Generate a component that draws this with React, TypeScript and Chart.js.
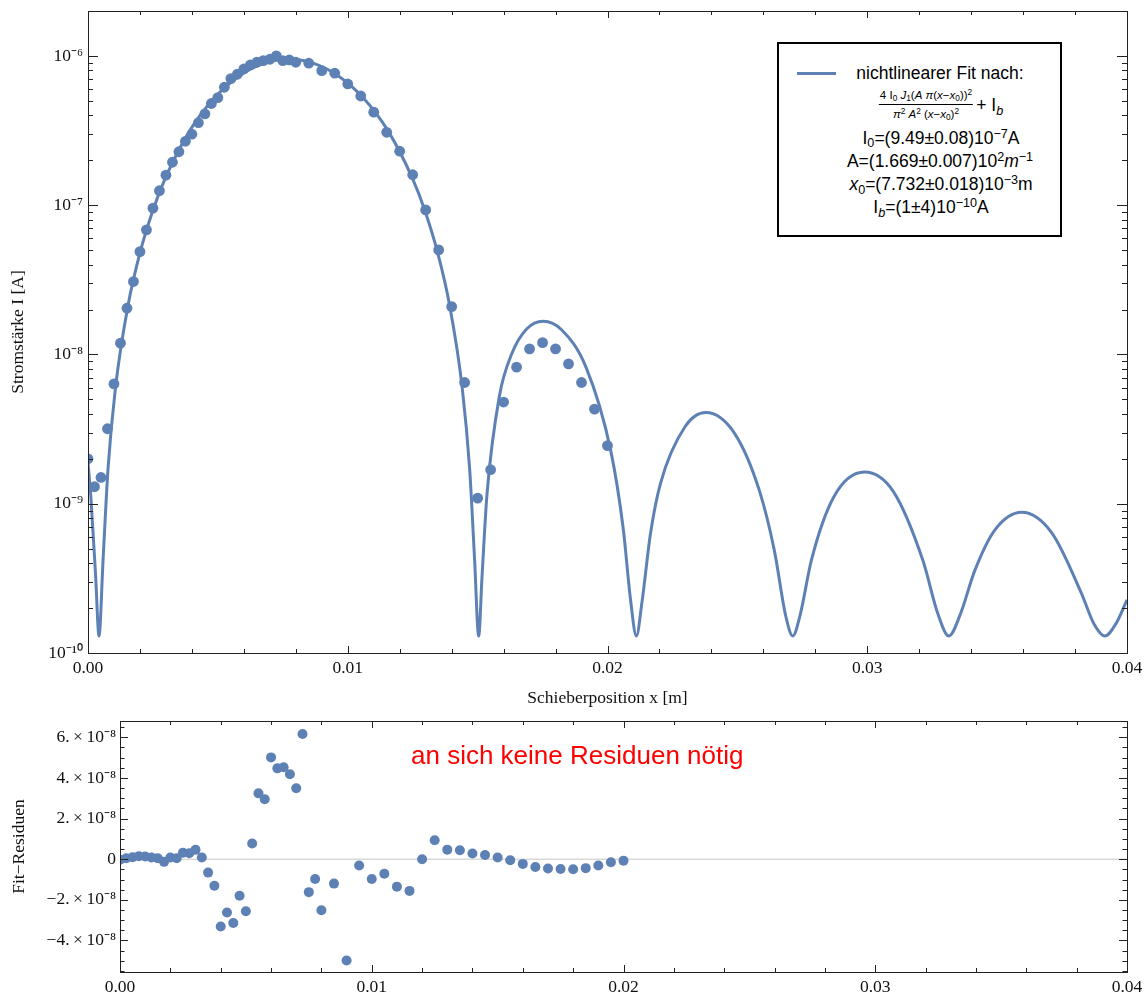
import React, { useEffect, useRef } from "react";
import { Chart, registerables } from "chart.js";

Chart.register(...registerables);

// ---------- data ----------
const BLUE = "#5E81B5";

// measured positions of the slider [m]
const dataX = [
  0, 0.00025, 0.0005, 0.00075, 0.001, 0.00125, 0.0015, 0.00175, 0.002, 0.00225,
  0.0025, 0.00275, 0.003, 0.00325, 0.0035, 0.00375, 0.004, 0.00425, 0.0045, 0.00475,
  0.005, 0.00525, 0.0055, 0.00575, 0.006, 0.00625, 0.0065, 0.00675, 0.007, 0.00725,
  0.0075, 0.00775, 0.008, 0.0085, 0.009, 0.0095, 0.01, 0.0105, 0.011, 0.0115,
  0.012, 0.0125, 0.013, 0.0135, 0.014, 0.0145, 0.015, 0.0155, 0.016, 0.0165,
  0.017, 0.0175, 0.018, 0.0185, 0.019, 0.0195, 0.02,
];

// measured current [A]
const dataI = [
  2.0e-9, 1.3e-9, 1.5e-9, 3.18e-9, 6.35e-9, 1.19e-8, 2.04e-8, 3.08e-8, 4.89e-8, 6.84e-8,
  9.55e-8, 1.25e-7, 1.59e-7, 1.94e-7, 2.28e-7, 2.68e-7, 2.99e-7, 3.57e-7, 4.09e-7, 4.8e-7,
  5.26e-7, 6.17e-7, 7.05e-7, 7.54e-7, 8.18e-7, 8.7e-7, 9.07e-7, 9.3e-7, 9.5e-7, 1.0e-6,
  9.3e-7, 9.4e-7, 9.07e-7, 8.94e-7, 7.97e-7, 7.66e-7, 6.49e-7, 5.39e-7, 4.2e-7, 3.08e-7,
  2.3e-7, 1.6e-7, 9.3e-8, 5.02e-8, 2.09e-8, 6.49e-9, 1.09e-9, 1.69e-9, 4.8e-9, 8.22e-9,
  1.09e-8, 1.2e-8, 1.09e-8, 8.65e-9, 6.49e-9, 4.3e-9, 2.45e-9,
];

// fit residuals [A] at the same positions
const residV = [
  -3e-10, 5e-10, 1.0e-9, 1.5e-9, 1.3e-9, 8e-10, 5e-10, -1.3e-9, 8e-10, 5e-10,
  3.2e-9, 2.9e-9, 4.6e-9, 8e-10, -6.6e-9, -1.31e-8, -3.31e-8, -2.62e-8, -3.14e-8, -1.8e-8,
  -2.56e-8, 7.7e-9, 3.24e-8, 2.95e-8, 5.01e-8, 4.47e-8, 4.52e-8, 4.18e-8, 3.49e-8, 6.16e-8,
  -1.62e-8, -9.7e-9, -2.51e-8, -1.2e-8, -4.98e-8, -3.1e-9, -9.7e-9, -7.2e-9, -1.35e-8, -1.56e-8,
  0, 9.3e-9, 4.7e-9, 4.4e-9, 2.8e-9, 2.1e-9, 8e-10, -5e-10, -2.3e-9, -3.8e-9,
  -4.6e-9, -4.8e-9, -4.9e-9, -4.4e-9, -3.1e-9, -1.5e-9, -7e-10,
];

// fit curve (positions [m])
const fitX = [
  0, 0.000103, 0.000294, 0.000424, 0.00058, 0.000771, 0.001057, 0.001534, 0.00201, 0.002487,
  0.002964, 0.003918, 0.004871, 0.005825, 0.006778, 0.007732, 0.008686, 0.009639, 0.010593, 0.011546,
  0.0125, 0.012977, 0.013454, 0.01393, 0.014407, 0.014693, 0.014884, 0.01504, 0.01517, 0.015361,
  0.015838, 0.016314, 0.016887, 0.017526, 0.018222, 0.019175, 0.020129, 0.020606, 0.020892, 0.021112,
  0.02133, 0.021654, 0.022036, 0.02299, 0.023785, 0.024897, 0.02585, 0.026423, 0.026862, 0.027135,
  0.027414, 0.027853, 0.028711, 0.029893, 0.031, 0.032144, 0.032716, 0.033143, 0.033574, 0.034146,
  0.034909, 0.035951, 0.037103, 0.038247, 0.038724, 0.039145, 0.039582, 0.04,
];
// fit curve values [A]
const fitI = [
  1.86e-9, 1.16e-9, 3.26e-10, 1.3e-10, 4.2e-10, 1.71e-9, 5.98e-9, 2.1e-8, 4.86e-8, 9.12e-8,
  1.5e-7, 3.16e-7, 5.25e-7, 7.35e-7, 8.92e-7, 9.49e-7, 8.92e-7, 7.35e-7, 5.25e-7, 3.16e-7,
  1.5e-7, 9.12e-8, 4.86e-8, 2.1e-8, 5.98e-9, 1.71e-9, 4.2e-10, 1.3e-10, 3.26e-10, 1.16e-9,
  5.26e-9, 1.01e-8, 1.48e-8, 1.67e-8, 1.47e-8, 8.2e-9, 2.25e-9, 6.8e-10, 2.23e-10, 1.3e-10,
  2.21e-10, 6.3e-10, 1.36e-9, 3.29e-9, 4.08e-9, 2.95e-9, 1.22e-9, 4.87e-10, 1.77e-10, 1.3e-10,
  1.79e-10, 4.21e-10, 1.11e-9, 1.63e-9, 1.21e-9, 4.16e-10, 1.84e-10, 1.3e-10, 1.8e-10, 3.59e-10,
  6.66e-10, 8.77e-10, 6.39e-10, 2.51e-10, 1.57e-10, 1.3e-10, 1.58e-10, 2.27e-10,
];

// ---------- axes ----------
const xMin = 0;
const xMax = 0.04;
const xTicks = [0, 0.01, 0.02, 0.03, 0.04];
const xTickLabels = ["0.00", "0.01", "0.02", "0.03", "0.04"];
const xMinorTicks = [
  0.002, 0.004, 0.006, 0.008, 0.012, 0.014, 0.016, 0.018,
  0.022, 0.024, 0.026, 0.028, 0.032, 0.034, 0.036, 0.038,
];

const yLogMin = 1e-10;
const yLogMax = 2e-6;
const yLogTicks = [1e-10, 1e-9, 1e-8, 1e-7, 1e-6];
const yLogTickLabels = ["10⁻¹⁰", "10⁻⁹", "10⁻⁸", "10⁻⁷", "10⁻⁶"];
const yLogMinor = [1e-10, 1e-9, 1e-8, 1e-7].flatMap((d) =>
  [2, 3, 4, 5, 6, 7, 8, 9].map((m) => m * d)
);

const resMin = -5.55e-8;
const resMax = 6.8e-8;
const resTicks = [-4e-8, -2e-8, 0, 2e-8, 4e-8, 6e-8];
const resTickLabels = [
  "−4.\u2009×\u200910⁻⁸",
  "−2.\u2009×\u200910⁻⁸",
  "0",
  "2.\u2009×\u200910⁻⁸",
  "4.\u2009×\u200910⁻⁸",
  "6.\u2009×\u200910⁻⁸",
];
const resMinor = [
  -5.5e-8, -5e-8, -4.5e-8, -3.5e-8, -3e-8, -2.5e-8, -1.5e-8, -1e-8, -0.5e-8,
  0.5e-8, 1e-8, 1.5e-8, 2.5e-8, 3e-8, 3.5e-8, 4.5e-8, 5e-8, 5.5e-8, 6.5e-8,
];

const SERIF = '"Liberation Serif", "Times New Roman", Times, serif';
const SANS = '"Liberation Sans", Arial, Helvetica, sans-serif';
const TXT = "#111";
const FS = 17.5;

// ---------- plugin: Mathematica-like frame with inward ticks ----------
const framePlugin = {
  id: "mmaFrame",
  beforeDatasetsDraw(chart: any, _a: any, opts: any) {
    if (!opts.zeroLine) return;
    const { ctx, chartArea, scales } = chart;
    const py = scales.y.getPixelForValue(0);
    ctx.save();
    ctx.strokeStyle = "#d9d9d9";
    ctx.lineWidth = 1.5;
    ctx.beginPath();
    ctx.moveTo(chartArea.left, py);
    ctx.lineTo(chartArea.right, py);
    ctx.stroke();
    ctx.restore();
  },
  afterDraw(chart: any, _a: any, opts: any) {
    const { ctx, chartArea, scales } = chart;
    const { left, right, top, bottom } = chartArea;
    const xs = scales.x;
    const ys = scales.y;
    ctx.save();
    ctx.strokeStyle = "#222";
    ctx.lineWidth = 1;
    ctx.beginPath();
    const seg = (x1: number, y1: number, x2: number, y2: number) => {
      ctx.moveTo(x1, y1);
      ctx.lineTo(x2, y2);
    };
    const xt: [number[], number][] = [
      [opts.xMajor, opts.xMajorLen],
      [opts.xMinor, opts.xMinorLen],
    ];
    for (const [vals, len] of xt) {
      for (const v of vals) {
        const px = Math.round(xs.getPixelForValue(v)) + 0.5;
        seg(px, bottom, px, bottom - len);
        seg(px, top, px, top + len);
      }
    }
    const yt: [number[], number][] = [
      [opts.yMajor, opts.yMajorLen],
      [opts.yMinor, opts.yMinorLen],
    ];
    for (const [vals, len] of yt) {
      for (const v of vals) {
        const py = Math.round(ys.getPixelForValue(v)) + 0.5;
        seg(left, py, left + len, py);
        seg(right, py, right - len, py);
      }
    }
    ctx.stroke();
    ctx.strokeRect(
      Math.round(left) + 0.5,
      Math.round(top) + 0.5,
      Math.round(right - left),
      Math.round(bottom - top)
    );
    ctx.restore();
  },
};

function xScale(height: number, padding: number, title?: string) {
  return {
    type: "linear",
    min: xMin,
    max: xMax,
    bounds: "data",
    afterBuildTicks: (s: any) => {
      s.ticks = xTicks.map((v) => ({ value: v }));
    },
    afterFit: (s: any) => {
      s.height = height;
      s.paddingLeft = 0;
      s.paddingRight = 0;
      s.paddingTop = 0;
      s.paddingBottom = 0;
    },
    grid: { display: false, drawTicks: false },
    border: { display: false },
    ticks: {
      autoSkip: false,
      maxRotation: 0,
      padding,
      color: TXT,
      font: { family: SERIF, size: FS },
      callback: (_v: any, i: number) => xTickLabels[i],
    },
    title: title
      ? {
          display: true,
          text: title,
          color: TXT,
          font: { family: SERIF, size: FS },
          padding: { top: 0, bottom: 6.5 },
        }
      : { display: false },
  };
}

function yFit(width: number) {
  return (s: any) => {
    s.width = width;
    s.paddingLeft = 0;
    s.paddingRight = 0;
    s.paddingTop = 0;
    s.paddingBottom = 0;
  };
}

export default function App() {
  const topRef = useRef<HTMLCanvasElement>(null);
  const botRef = useRef<HTMLCanvasElement>(null);

  useEffect(() => {
    const c1 = new Chart(topRef.current as HTMLCanvasElement, {
      type: "scatter",
      data: {
        datasets: [
          {
            label: "Messwerte",
            data: dataX.map((x, i) => ({ x, y: dataI[i] })),
            backgroundColor: BLUE,
            borderWidth: 0,
            pointRadius: 5.4,
            pointHoverRadius: 5.4,
            order: 0,
          },
          {
            label: "nichtlinearer Fit",
            data: fitX.map((x, i) => ({ x, y: fitI[i] })),
            showLine: true,
            borderColor: BLUE,
            borderWidth: 3,
            pointRadius: 0,
            cubicInterpolationMode: "monotone",
            order: 1,
          },
        ],
      },
      options: {
        responsive: false,
        animation: false,
        events: [],
        layout: { padding: { left: 0, right: 21, top: 11, bottom: 0 } },
        plugins: {
          legend: { display: false },
          tooltip: { enabled: false },
          mmaFrame: {
            xMajor: xTicks,
            xMinor: xMinorTicks,
            xMajorLen: 7,
            xMinorLen: 4,
            yMajor: yLogTicks,
            yMinor: yLogMinor,
            yMajorLen: 10,
            yMinorLen: 5,
          },
        } as any,
        scales: {
          x: xScale(62, 5, "Schieberposition x [m]") as any,
          y: {
            type: "logarithmic",
            min: yLogMin,
            max: yLogMax,
            bounds: "data",
            afterBuildTicks: (s: any) => {
              s.ticks = yLogTicks.map((v) => ({ value: v }));
            },
            afterFit: yFit(88),
            grid: { display: false, drawTicks: false },
            border: { display: false },
            ticks: {
              autoSkip: false,
              padding: 5,
              color: TXT,
              font: { family: SERIF, size: FS },
              callback: (_v: any, i: number) => yLogTickLabels[i],
            },
            title: {
              display: true,
              text: "Stromstärke I [A]",
              color: TXT,
              font: { family: SERIF, size: FS },
              padding: { top: 7.5, bottom: 0 },
            },
          } as any,
        },
      },
      plugins: [framePlugin as any],
    });

    const c2 = new Chart(botRef.current as HTMLCanvasElement, {
      type: "scatter",
      data: {
        datasets: [
          {
            label: "Fit-Residuen",
            data: dataX.map((x, i) => ({ x, y: residV[i] })),
            backgroundColor: BLUE,
            borderWidth: 0,
            pointRadius: 5,
            pointHoverRadius: 5,
          },
        ],
      },
      options: {
        responsive: false,
        animation: false,
        events: [],
        layout: { padding: { left: 0, right: 21, top: 6, bottom: 0 } },
        plugins: {
          legend: { display: false },
          tooltip: { enabled: false },
          mmaFrame: {
            zeroLine: true,
            xMajor: xTicks,
            xMinor: xMinorTicks,
            xMajorLen: 7,
            xMinorLen: 4,
            yMajor: resTicks,
            yMinor: resMinor,
            yMajorLen: 8,
            yMinorLen: 4.5,
          },
        } as any,
        scales: {
          x: xScale(23, 4.5) as any,
          y: {
            type: "linear",
            min: resMin,
            max: resMax,
            bounds: "data",
            afterBuildTicks: (s: any) => {
              s.ticks = resTicks.map((v) => ({ value: v }));
            },
            afterFit: yFit(120),
            grid: { display: false, drawTicks: false },
            border: { display: false },
            ticks: {
              autoSkip: false,
              padding: 4,
              color: TXT,
              font: { family: SERIF, size: FS },
              callback: (_v: any, i: number) => resTickLabels[i],
            },
            title: {
              display: true,
              text: "Fit−Residuen",
              color: TXT,
              font: { family: SERIF, size: FS },
              padding: { top: 8.5, bottom: 0 },
            },
          } as any,
        },
      },
      plugins: [framePlugin as any],
    });

    return () => {
      c1.destroy();
      c2.destroy();
    };
  }, []);

  // legend box geometry (page coordinates)
  const BX = 777;
  const BY = 42;
  const BW = 285;
  const BH = 195;
  const IX = BX + 2; // inner origin (inside 2px border)
  const IY = BY + 2;

  const Sub = ({ children }: any) => (
    <span style={{ fontSize: "0.72em", position: "relative", top: "0.3em" }}>{children}</span>
  );
  const Sup = ({ children }: any) => (
    <span style={{ fontSize: "0.72em", position: "relative", top: "-0.45em" }}>{children}</span>
  );
  const Row = ({ cx, cy, children }: any) => (
    <div
      style={{
        position: "absolute",
        left: cx - IX,
        top: cy - IY - 10,
        lineHeight: "20px",
        fontSize: FS,
        whiteSpace: "nowrap",
        transform: "translateX(-50%)",
      }}
    >
      {children}
    </div>
  );

  return (
    <div style={{ position: "absolute", left: 0, top: 0, width: 1148, height: 995, background: "#fff" }}>
      <canvas
        ref={topRef}
        width={1148}
        height={715}
        style={{ position: "absolute", left: 0, top: 0, display: "block" }}
      />
      <canvas
        ref={botRef}
        width={1148}
        height={280}
        style={{ position: "absolute", left: 0, top: 715, display: "block" }}
      />

      {/* legend */}
      <div
        style={{
          position: "absolute",
          left: BX,
          top: BY,
          width: BW,
          height: BH,
          boxSizing: "border-box",
          border: "2px solid #000",
          background: "#fff",
          fontFamily: SANS,
          color: "#000",
        }}
      >
        <div
          style={{
            position: "absolute",
            left: 797 - IX,
            top: 73 - IY - 1.5,
            width: 39,
            height: 3,
            background: BLUE,
          }}
        />
        <Row cx={940} cy={73}>nichtlinearer Fit nach:</Row>
        <div
          style={{
            position: "absolute",
            left: 941 - IX,
            top: 89 - IY,
            transform: "translateX(-50%)",
            display: "flex",
            alignItems: "center",
            whiteSpace: "nowrap",
          }}
        >
          <div
            style={{
              display: "inline-flex",
              flexDirection: "column",
              alignItems: "center",
              fontSize: 11.5,
              lineHeight: "13px",
            }}
          >
            <div style={{ padding: "0 1px 1px" }}>
              4 I<Sub>0</Sub> <i>J</i>
              <Sub>1</Sub>(<i>A</i> <i>π</i>(<i>x</i>−<i>x</i>
              <Sub>0</Sub>))<Sup>2</Sup>
            </div>
            <div style={{ height: 1, background: "#000", alignSelf: "stretch" }} />
            <div style={{ paddingTop: 3 }}>
              <i>π</i>
              <Sup>2</Sup> <i>A</i>
              <Sup>2</Sup> (<i>x</i>−<i>x</i>
              <Sub>0</Sub>)<Sup>2</Sup>
            </div>
          </div>
          <span style={{ fontSize: FS, marginLeft: 3 }}>
            + I<Sub><i>b</i></Sub>
          </span>
        </div>
        <Row cx={941} cy={137.5}>
          I<Sub>0</Sub>=(9.49±0.08)10<Sup>−7</Sup>A
        </Row>
        <Row cx={940} cy={161}>
          A=(1.669±0.007)10<Sup>2</Sup>
          <i>m</i>
          <Sup>−1</Sup>
        </Row>
        <Row cx={941} cy={184}>
          <i>x</i>
          <Sub>0</Sub>=(7.732±0.018)10<Sup>−3</Sup>m
        </Row>
        <Row cx={931} cy={207}>
          I<Sub><i>b</i></Sub>=(1±4)10<Sup>−10</Sup>A
        </Row>
      </div>

      {/* annotation in the residual plot */}
      <div
        style={{
          position: "absolute",
          left: 411,
          top: 740,
          fontFamily: SANS,
          fontSize: 26,
          lineHeight: "30px",
          color: "#ff0000",
          whiteSpace: "nowrap",
        }}
      >
        an sich keine Residuen nötig
      </div>
    </div>
  );
}
